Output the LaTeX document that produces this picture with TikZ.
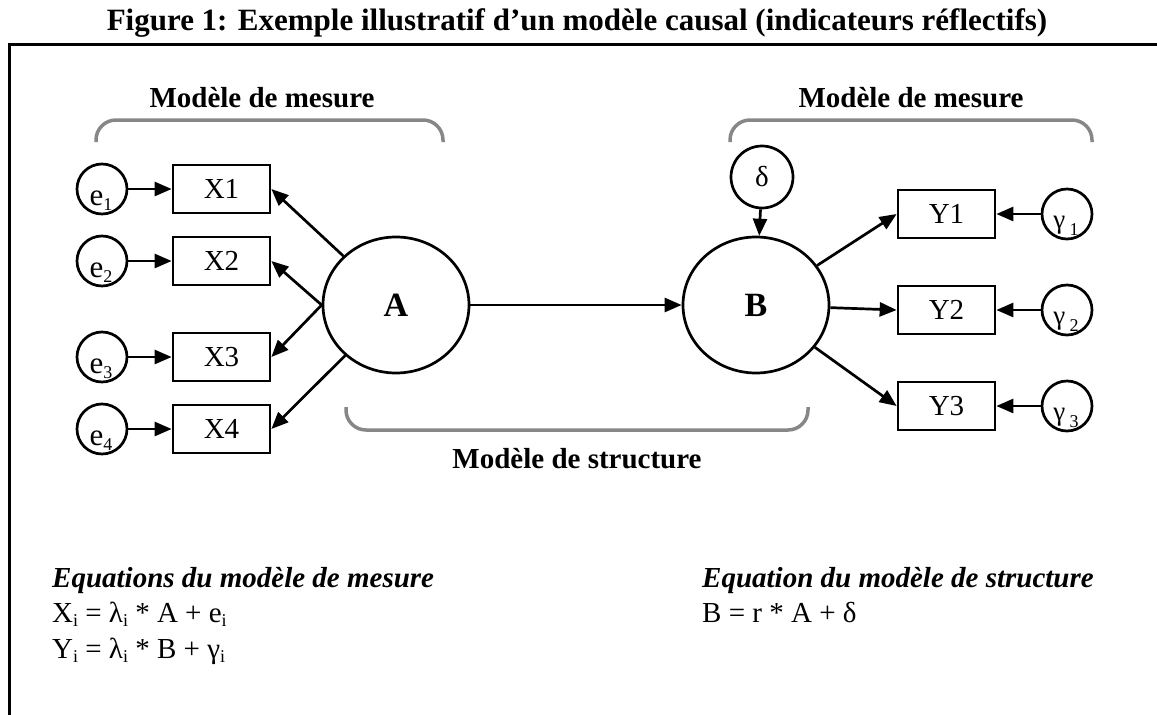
\documentclass[tikz,border=0pt]{standalone}
\usepackage{fontspec}
\setmainfont{Liberation Serif}
\usetikzlibrary{arrows.meta,shapes.geometric}
\definecolor{brkgray}{RGB}{135,135,135}
\newcommand\lowsub[2][5pt]{\raisebox{-#1}{\fontsize{18}{18}\selectfont #2}}
\begin{document}
\begin{tikzpicture}[x=1pt,y=-1pt,
  every node/.style={font=\fontsize{29}{34}\selectfont, inner sep=0pt},
  obs/.style={draw, line width=2.7pt, minimum width=97pt, minimum height=48pt},
  err/.style={draw, circle, line width=2.7pt, minimum size=50pt},
  lat/.style={draw, ellipse, line width=2.7pt, minimum width=146pt, minimum height=136pt,
     font=\fontsize{34}{40}\selectfont\bfseries},
  arr/.style={line width=2.7pt, -{Triangle[length=17pt,width=14pt]}},
  brk/.style={line width=3.5pt, draw=brkgray, rounded corners=20pt},
  lbl/.style={font=\fontsize{29}{34}\selectfont\bfseries},
  eqhead/.style={font=\fontsize{29}{34}\selectfont\bfseries\itshape, anchor=base west},
  eqline/.style={anchor=base west},
]
\useasboundingbox (0,0) rectangle (1157,715);

% title and frame
\node[lbl, anchor=base, font=\fontsize{31}{36}\selectfont\bfseries] (title) at (577,30) {Figure 1: Exemple illustratif d’un modèle causal (indicateurs réflectifs)};
\draw[line width=3pt] (9,715) -- (9,44.5) -- (1157,44.5);

% brackets
\draw[brk] (96,142) -- (96,120) -- (443,120) -- (443,142);
\draw[brk] (730,142) -- (730,120) -- (1092,120) -- (1092,142);
\draw[brk] (346,407) -- (346,430) -- (808,430) -- (808,407);
\node[lbl, anchor=base] (mm1) at (262,107) {Modèle de mesure};
\node[lbl, anchor=base] (mm2) at (911,107) {Modèle de mesure};
\node[lbl, anchor=base] (ms) at (577,468) {Modèle de structure};

% latent variables
\node[lat] (A) at (396,305) {A};
\node[lat] (B) at (756,305) {B};
\node[err, minimum size=62pt] (d) at (762,177) {δ};

% X side
\foreach \i/\y in {1/189,2/261,3/357,4/429}{
  \node[obs] (X\i) at (221.5,\y) {X\i};
  \node[err] (e\i) at (102,\y) {};
  \node[anchor=base, font=\fontsize{31}{34}\selectfont] (e\i l) at (101,\y+16) {e\lowsub{\i}};
  \draw[arr] (e\i) -- (X\i);
}
% Y side
\foreach \i/\y in {1/214,2/310,3/406}{
  \node[obs] (Y\i) at (946.5,\y) {Y\i};
  \node[err] (g\i) at (1067,\y) {};
  \node[anchor=base, font=\fontsize{27}{30}\selectfont] (g\i l) at (1066,\y+14) {γ\,\lowsub[7pt]{\i}};
  \draw[arr] (g\i) -- (Y\i);
}

% structural and measurement arrows
\draw[arr] (A) -- (X1.east);
\draw[arr] (A.west) -- (X2.east);
\draw[arr] (A.west) -- (X3.east);
\draw[arr] (A) -- (X4.east);
\draw[arr] (A) -- (B);
\draw[arr] (d) -- (B);
\draw[arr] (B) -- (Y1.west);
\draw[arr] (B) -- (Y2.west);
\draw[arr] (B) -- (Y3.west);

% equations
\node[eqhead] (eqh1) at (52,587) {Equations du modèle de mesure};
\node[eqline] (eqx) at (52,622) {X\lowsub[4pt]{i} = λ\lowsub[4pt]{i} * A + e\lowsub[4pt]{i}};
\node[eqline] (eqy) at (52,658) {Y\lowsub[4pt]{i} = λ\lowsub[4pt]{i} * B + γ\lowsub[4pt]{i}};
\node[eqhead] (eqh2) at (702,587) {Equation du modèle de structure};
\node[eqline] (eqb) at (702,622) {B = r * A + δ};
\end{tikzpicture}
\end{document}
